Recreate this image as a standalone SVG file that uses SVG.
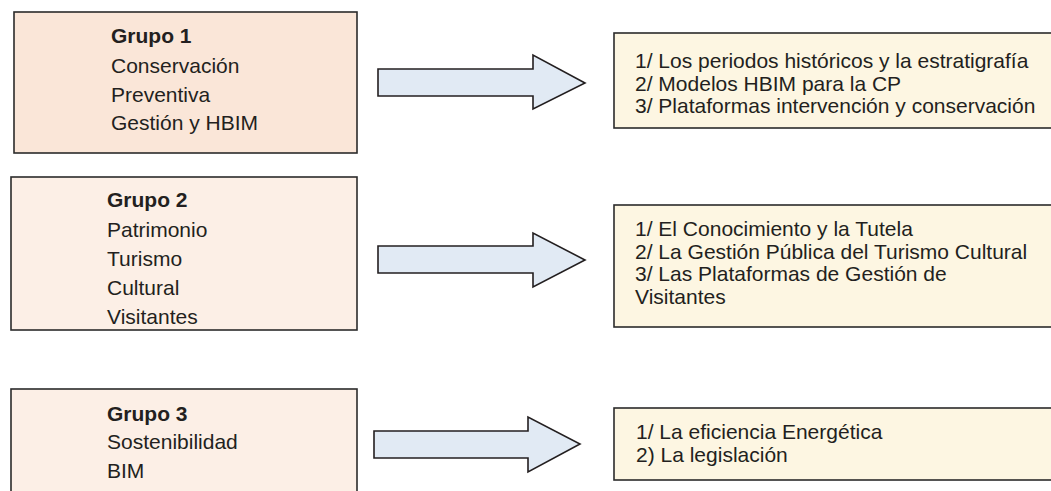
<svg xmlns="http://www.w3.org/2000/svg" width="1051" height="491" viewBox="0 0 1051 491">
  <style>
    .grp { stroke: #2b2b2b; stroke-width: 1.6; }
    .g1 { fill: #fae6d8; }
    .g2 { fill: #fcefe6; }
    .res { fill: #fdf6e2; stroke: #2b2b2b; stroke-width: 1.6; }
    .arrow { fill: #e1eaf4; stroke: #231f20; stroke-width: 1.6; stroke-linejoin: miter; }
    text { font-family: "Liberation Sans", Arial, sans-serif; font-size: 21px; fill: #231f20; }
    .title { font-weight: bold; }
  </style>

  <!-- Group boxes -->
  <g id="grupo1">
    <rect class="grp g1" x="14" y="12" width="343" height="141"/>
    <text class="title" x="111" y="43">Grupo 1</text>
    <text x="111" y="73">Conservación</text>
    <text x="111" y="102">Preventiva</text>
    <text x="111" y="130">Gestión y HBIM</text>
  </g>

  <g id="grupo2">
    <rect class="grp g2" x="11" y="177" width="346" height="153"/>
    <text class="title" x="107" y="207">Grupo 2</text>
    <text x="107" y="237">Patrimonio</text>
    <text x="107" y="266">Turismo</text>
    <text x="107" y="295">Cultural</text>
    <text x="107" y="324">Visitantes</text>
  </g>

  <g id="grupo3">
    <rect class="grp g2" x="11" y="389" width="346" height="110"/>
    <text class="title" x="107" y="421">Grupo 3</text>
    <text x="107" y="449">Sostenibilidad</text>
    <text x="107" y="478">BIM</text>
  </g>

  <!-- Result boxes -->
  <g id="resultado1">
    <rect class="res" x="614" y="33" width="440" height="95"/>
    <text x="635" y="68">1/ Los periodos históricos y la estratigrafía</text>
    <text x="635" y="91">2/ Modelos HBIM para la CP</text>
    <text x="635" y="113">3/ Plataformas intervención y conservación</text>
  </g>

  <g id="resultado2">
    <rect class="res" x="614" y="205" width="440" height="122"/>
    <text x="635" y="236">1/ El Conocimiento y la Tutela</text>
    <text x="635" y="259">2/ La Gestión Pública del Turismo Cultural</text>
    <text x="635" y="281">3/ Las Plataformas de Gestión de</text>
    <text x="635" y="304">Visitantes</text>
  </g>

  <g id="resultado3">
    <rect class="res" x="614" y="408" width="440" height="72"/>
    <text x="636" y="439">1/ La eficiencia Energética</text>
    <text x="636" y="462">2) La legislación</text>
  </g>

  <!-- Block arrows linking each group to its results -->
  <g id="connectors">
    <polygon class="arrow" points="378,69 533,69 533,55 585,83 533,109 533,96 378,96"/>
    <polygon class="arrow" points="378,246 533,246 533,233 585,260 533,287 533,273 378,273"/>
    <polygon class="arrow" points="374,431 528,431 528,417 580,444 528,472 528,458 374,458"/>
  </g>
</svg>
